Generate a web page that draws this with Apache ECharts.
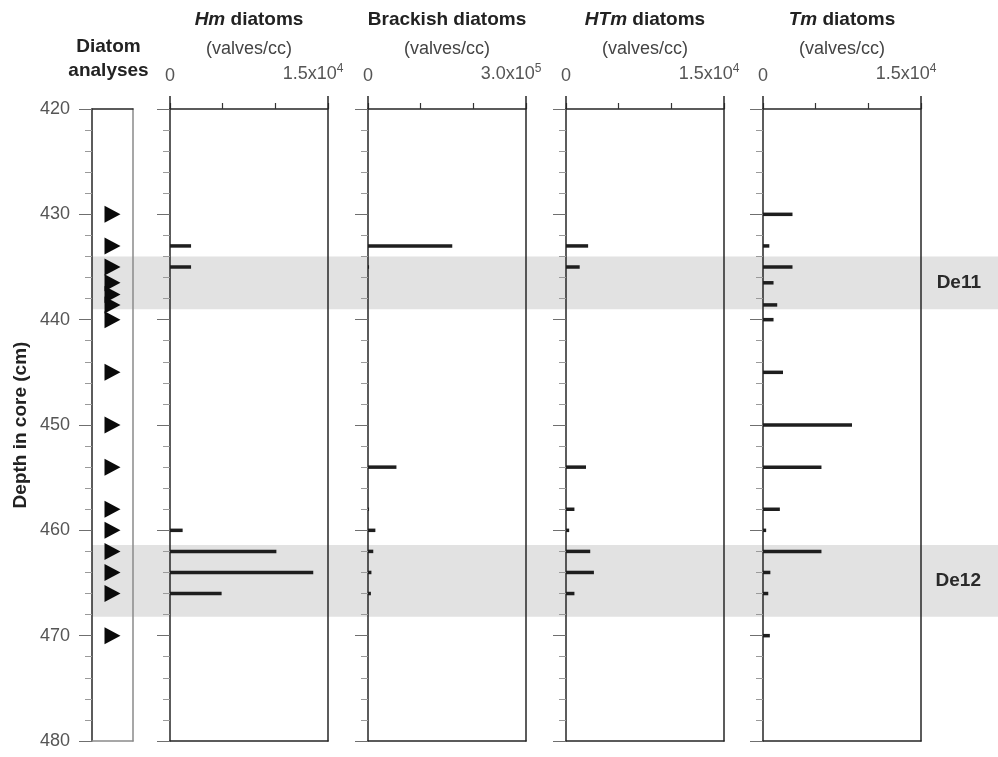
<!DOCTYPE html>
<html>
<head>
<meta charset="utf-8">
<script src="https://cdn.jsdelivr.net/npm/echarts@6/dist/echarts.min.js"></script>
<style>
  html, body { margin: 0; padding: 0; background: #ffffff; }
  #chart { width: 998px; height: 757px; }
</style>
</head>
<body>
<div id="chart"></div>
<script>
// Sampled depths (cm) of the diatom analyses
const depths = [430, 433, 435, 436.5, 437.6, 438.6, 440, 445, 450, 454, 458, 460, 462, 464, 466, 470];

// Diatom concentrations (valves/cc) at each sampled depth
const hmValues       = [0, 2000, 2000, 0, 0, 0, 0, 0, 0, 0, 0, 1200, 10100, 13600, 4900, 0];
const brackishValues = [0, 160000, 2000, 0, 0, 0, 0, 0, 0, 54000, 2000, 14000, 10000, 6500, 5500, 0];
const htmValues      = [0, 2100, 1300, 0, 0, 0, 0, 0, 0, 1900, 800, 300, 2300, 2650, 800, 0];
const tmValues       = [2800, 600, 2800, 1000, 0, 1350, 1000, 1900, 8450, 5550, 1600, 300, 5550, 700, 500, 650];

// Panel headings: italic part, plain part
const panelItalic = ['Hm', '', 'HTm', 'Tm'];
const panelPlain  = [' diatoms', 'Brackish diatoms', ' diatoms', ' diatoms'];
const panelUnit   = '(valves/cc)';

// Concentration axes: maximum, and its label as mantissa x 10^exponent
const axisMax      = [15000, 300000, 15000, 15000];
const axisMantissa = ['1.5x10', '3.0x10', '1.5x10', '1.5x10'];
const axisExponent = ['4', '5', '4', '4'];

// Event layers (depth top, depth bottom, name)
const bandTop    = [434, 461.4];
const bandBottom = [439, 468.2];
const bandNames  = ['De11', 'De12'];

// Depth axis range
const depthMin = 420, depthMax = 480, depthStep = 10;

const panelValues = [hmValues, brackishValues, htmValues, tmValues];

const FONT = '"Liberation Sans", Arial, Helvetica, sans-serif';
const TOP = 109, HEIGHT = 632;
const panelLeft = [170, 368, 566, 763];
const panelWidth = 158;

const grid = [], xAxis = [], yAxis = [], series = [];

function depthAxis(gi, extra) {
  return Object.assign({
    gridIndex: gi, type: 'value', min: depthMin, max: depthMax, interval: depthStep, inverse: true,
    position: 'left',
    axisLine: { show: true, onZero: false, lineStyle: { color: '#262626', width: 1.5 } },
    axisTick: { show: true, length: 13, lineStyle: { color: '#6f6f6f', width: 1 } },
    minorTick: { show: true, splitNumber: 5, length: 7, lineStyle: { color: '#9a9a9a', width: 1 } },
    axisLabel: { show: false },
    splitLine: { show: false }
  }, extra || {});
}
function frameY(gi, color) {
  return {
    gridIndex: gi, type: 'value', min: depthMin, max: depthMax, inverse: true, position: 'right',
    axisLine: { show: true, onZero: false, lineStyle: { color: color, width: 1.5 } },
    axisTick: { show: false }, axisLabel: { show: false }, splitLine: { show: false }
  };
}
function frameX(gi, max, color) {
  return {
    gridIndex: gi, type: 'value', min: 0, max: max, position: 'bottom',
    axisLine: { show: true, onZero: false, lineStyle: { color: color, width: 1.5 } },
    axisTick: { show: false }, axisLabel: { show: false }, splitLine: { show: false }
  };
}

// Layer 0: shaded event bands across the full width
grid.push({ left: 92, right: 0, top: TOP, height: HEIGHT });
xAxis.push({ gridIndex: 0, type: 'value', min: 0, max: 1, show: false });
yAxis.push({ gridIndex: 0, type: 'value', min: depthMin, max: depthMax, inverse: true, show: false });
series.push({
  type: 'scatter', xAxisIndex: 0, yAxisIndex: 0, data: [[0.5, depthMin]], symbolSize: 0, silent: true, z: -1,
  markArea: {
    silent: true, z: -1,
    itemStyle: { color: '#e2e2e2' },
    label: { show: true, position: 'insideRight', distance: 17, fontFamily: FONT, fontWeight: 'bold', fontSize: 19, color: '#2a2a2a' },
    data: bandNames.map((n, i) => [{ yAxis: bandTop[i], name: n }, { yAxis: bandBottom[i] }])
  }
});

// Panel 1: sample positions
grid.push({ left: 92, width: 41, top: TOP, height: HEIGHT });
let xi = xAxis.length, yi = yAxis.length;
xAxis.push({
  gridIndex: 1, type: 'value', min: 0, max: 1, position: 'top',
  axisLine: { show: true, onZero: false, lineStyle: { color: '#262626', width: 1.5 } },
  axisTick: { show: false }, axisLabel: { show: false }, splitLine: { show: false },
  name: '{b|Diatom}\n{b|analyses}', nameLocation: 'middle', nameGap: 26,
  nameTextStyle: { padding: [0, 8, 0, 0], rich: { b: { fontFamily: FONT, fontWeight: 'bold', fontSize: 19, lineHeight: 24, color: '#222' } } }
});
xAxis.push(frameX(1, 1, '#8a8a8a'));
yAxis.push(depthAxis(1, {
  axisLabel: { show: true, margin: 22, fontFamily: FONT, fontSize: 18, color: '#555' },
  name: 'Depth in core (cm)', nameLocation: 'middle', nameGap: 62, nameRotate: 90,
  nameTextStyle: { fontFamily: FONT, fontWeight: 'bold', fontSize: 19, color: '#222' }
}));
yAxis.push(frameY(1, '#8a8a8a'));
series.push({
  type: 'scatter', xAxisIndex: xi, yAxisIndex: yi,
  symbol: 'path://M0,0 L10,5 L0,10 Z', symbolSize: [16, 17],
  itemStyle: { color: '#0a0a0a', opacity: 1 },
  emphasis: { disabled: true },
  data: depths.map(d => [0.5, d])
});

// Concentration panels
panelValues.forEach((vals, p) => {
  const gi = grid.length;
  const M = axisMax[p];
  grid.push({ left: panelLeft[p], width: panelWidth, top: TOP, height: HEIGHT });
  const mainX = xAxis.length;
  const title = (panelItalic[p] ? '{bi|' + panelItalic[p] + '}' : '') + '{b|' + panelPlain[p] + '}\n{s|' + panelUnit + '}';
  xAxis.push({
    gridIndex: gi, type: 'value', min: 0, max: M, interval: M / 3, position: 'top',
    axisLine: { show: true, onZero: false, lineStyle: { color: '#262626', width: 1.5 } },
    axisTick: { show: true, length: 6, lineStyle: { color: '#333', width: 1.2 } },
    axisLabel: {
      show: true, margin: 24, fontFamily: FONT, fontSize: 18, color: '#555',
      formatter: v => v === 0 ? '0' : (v === M ? '{m|' + axisMantissa[p] + '}{e|' + axisExponent[p] + '}{g|}' : ''),
      rich: {
        m: { fontFamily: FONT, fontSize: 18, lineHeight: 22, color: '#555' },
        e: { fontFamily: FONT, fontSize: 12, lineHeight: 12, verticalAlign: 'top', color: '#555' },
        g: { width: 30 }
      }
    },
    splitLine: { show: false },
    name: title, nameLocation: 'middle', nameGap: 45,
    nameTextStyle: {
      rich: {
        bi: { fontFamily: FONT, fontWeight: 'bold', fontStyle: 'italic', fontSize: 19, lineHeight: 29, color: '#222' },
        b:  { fontFamily: FONT, fontWeight: 'bold', fontSize: 19, lineHeight: 29, color: '#222' },
        s:  { fontFamily: FONT, fontSize: 18, lineHeight: 29, color: '#444' }
      }
    }
  });
  // longer end ticks at the frame corners
  xAxis.push({
    gridIndex: gi, type: 'value', min: 0, max: M, interval: M, position: 'top',
    axisLine: { show: false, onZero: false },
    axisTick: { show: true, length: 13, lineStyle: { color: '#262626', width: 1.5 } },
    axisLabel: { show: false }, splitLine: { show: false }
  });
  xAxis.push(frameX(gi, M, '#262626'));
  const leftY = yAxis.length;
  yAxis.push(depthAxis(gi));
  yAxis.push(frameY(gi, '#262626'));
  series.push({
    type: 'custom', xAxisIndex: mainX, yAxisIndex: leftY,
    data: depths.map((d, i) => [vals[i], d]).filter(r => r[0] > 0),
    renderItem: function (params, api) {
      const p0 = api.coord([0, api.value(1)]);
      const p1 = api.coord([api.value(0), api.value(1)]);
      return { type: 'rect', shape: { x: p0[0], y: p0[1] - 1.75, width: p1[0] - p0[0], height: 3.5 }, style: { fill: '#1e1e1e' } };
    }
  });
});

const chart = echarts.init(document.getElementById('chart'), null, { renderer: 'canvas' });
chart.setOption({
  backgroundColor: '#ffffff',
  animation: false,
  grid: grid, xAxis: xAxis, yAxis: yAxis, series: series
});
</script>
</body>
</html>
